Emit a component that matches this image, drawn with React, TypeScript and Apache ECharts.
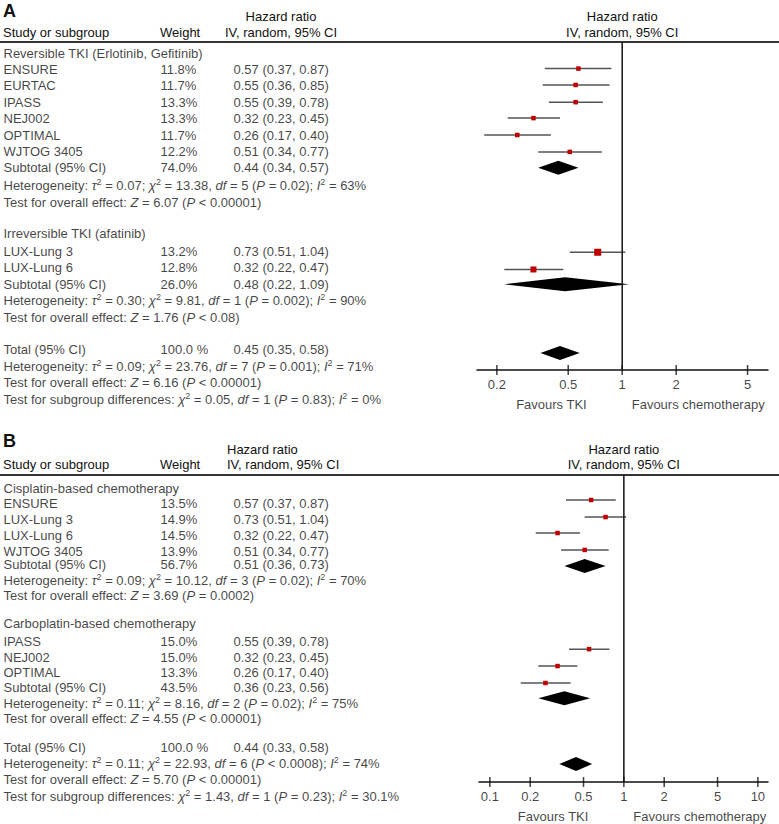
import React, { useEffect, useRef } from 'react';
import * as echarts from 'echarts';

const FONT = '"Liberation Sans", Arial, Helvetica, sans-serif';
const INK = '#111';
const CI_COLOR = '#555';
const SQUARE_COLOR = '#c00000';

// ---------------- Panel A data ----------------
const groupsA = ['Reversible TKI (Erlotinib, Gefitinib)', 'Irreversible TKI (afatinib)'];
const studiesA = ['ENSURE', 'EURTAC', 'IPASS', 'NEJ002', 'OPTIMAL', 'WJTOG 3405', 'LUX-Lung 3', 'LUX-Lung 6'];
const weightsA = ['11.8%', '11.7%', '13.3%', '13.3%', '11.7%', '12.2%', '13.2%', '12.8%'];
const hrA = [0.57, 0.55, 0.55, 0.32, 0.26, 0.51, 0.73, 0.32];
const lowerA = [0.37, 0.36, 0.39, 0.23, 0.17, 0.34, 0.51, 0.22];
const upperA = [0.87, 0.85, 0.78, 0.45, 0.4, 0.77, 1.04, 0.47];
const summaryLabelsA = ['Subtotal (95% CI)', 'Subtotal (95% CI)', 'Total (95% CI)'];
const summaryWeightsA = ['74.0%', '26.0%', '100.0 %'];
const summaryHrA = [0.44, 0.48, 0.45];
const summaryLowerA = [0.34, 0.22, 0.35];
const summaryUpperA = [0.57, 1.09, 0.58];
const tau2A = ['0.07', '0.30', '0.09'];
const chi2A = ['13.38', '9.81', '23.76'];
const dfA = ['5', '1', '7'];
const pHetA = ['= 0.02', '= 0.002', '= 0.001'];
const i2A = ['63%', '90%', '71%'];
const zA = ['6.07', '1.76', '6.16'];
const pZA = ['< 0.00001', '< 0.08', '< 0.00001'];
const diffA = ['0.05', '1', '= 0.83', '0%']; // chi2, df, P, I2
const ticksA = [0.2, 0.5, 1, 2, 5];

// ---------------- Panel B data ----------------
const groupsB = ['Cisplatin-based chemotherapy', 'Carboplatin-based chemotherapy'];
const studiesB = ['ENSURE', 'LUX-Lung 3', 'LUX-Lung 6', 'WJTOG 3405', 'IPASS', 'NEJ002', 'OPTIMAL'];
const weightsB = ['13.5%', '14.9%', '14.5%', '13.9%', '15.0%', '15.0%', '13.3%'];
const hrB = [0.57, 0.73, 0.32, 0.51, 0.55, 0.32, 0.26];
const lowerB = [0.37, 0.51, 0.22, 0.34, 0.39, 0.23, 0.17];
const upperB = [0.87, 1.04, 0.47, 0.77, 0.78, 0.45, 0.4];
const summaryLabelsB = ['Subtotal (95% CI)', 'Subtotal (95% CI)', 'Total (95% CI)'];
const summaryWeightsB = ['56.7%', '43.5%', '100.0 %'];
const summaryHrB = [0.51, 0.36, 0.44];
const summaryLowerB = [0.36, 0.23, 0.33];
const summaryUpperB = [0.73, 0.56, 0.58];
const tau2B = ['0.09', '0.11', '0.11'];
const chi2B = ['10.12', '8.16', '22.93'];
const dfB = ['3', '2', '6'];
const pHetB = ['= 0.02', '= 0.02', '< 0.0008'];
const i2B = ['70%', '75%', '74%'];
const zB = ['3.69', '4.55', '5.70'];
const pZB = ['= 0.0002', '< 0.00001', '< 0.00001'];
const diffB = ['1.43', '1', '= 0.23', '30.1%'];
const ticksB = [0.1, 0.2, 0.5, 1, 2, 5, 10];

// ---------------- Layout (positions / sizes / styles) ----------------
const layoutA = {
  letter: 'A', letterY: 11, head1Y: 16, head2Y: 32,
  hrHeadX: 281, hrHeadAlign: 'center',
  y0: 53, step: 16.4, top: 42, axisY: 370, textBottom: 412,
  plotLeft: 477, plotRight: 768, xMin: 0.155, xMax: 6.5,
  groupRows: [0, 11],
  studyRows: [1, 2, 3, 4, 5, 6, 12.1, 13.1],
  studyPlotRows: [0.95, 1.95, 3, 3.97, 5, 6.03, 12.15, 13.2],
  summaryRows: [7, 14.1, 18.1],
  summaryPlotRows: [7, 14.1, 18.3],
  hetRows: [8.1, 15.1, 19.1],
  testRows: [9.1, 16.1, 20.1],
  diffRow: 21.1,
  squareSizes: [4.5, 4.5, 4.5, 4.5, 4.5, 4.5, 7, 6],
};
const layoutB = {
  letter: 'B', letterY: 441, head1Y: 449, head2Y: 464,
  hrHeadX: 227, hrHeadAlign: 'left',
  y0: 488, step: 15.8, top: 475, axisY: 782, textBottom: 824,
  plotLeft: 479, plotRight: 768, xMin: 0.083, xMax: 11.9,
  groupRows: [0, 8.6],
  studyRows: [1, 2, 3, 4, 9.7, 10.7, 11.7],
  studyPlotRows: [0.76, 1.84, 2.85, 3.92, 10.2, 11.27, 12.34],
  summaryRows: [4.85, 12.65, 16.45],
  summaryPlotRows: [4.94, 13.3, 17.47],
  hetRows: [5.85, 13.65, 17.45],
  testRows: [6.8, 14.6, 18.45],
  diffRow: 19.5,
  squareSizes: [4.5, 4.5, 4.5, 4.5, 4.5, 4.5, 4.5],
};
const COL_NAME = 3;
const COL_WEIGHT = 160;
const COL_HR = 233;
const DIAMOND_HALF = 7;

const panelA = {
  groups: groupsA, studies: studiesA, weights: weightsA, hr: hrA, lower: lowerA, upper: upperA,
  sLabels: summaryLabelsA, sWeights: summaryWeightsA, sHr: summaryHrA, sLower: summaryLowerA, sUpper: summaryUpperA,
  tau2: tau2A, chi2: chi2A, df: dfA, pHet: pHetA, i2: i2A, z: zA, pZ: pZA, diff: diffA, ticks: ticksA,
};
const panelB = {
  groups: groupsB, studies: studiesB, weights: weightsB, hr: hrB, lower: lowerB, upper: upperB,
  sLabels: summaryLabelsB, sWeights: summaryWeightsB, sHr: summaryHrB, sLower: summaryLowerB, sUpper: summaryUpperB,
  tau2: tau2B, chi2: chi2B, df: dfB, pHet: pHetB, i2: i2B, z: zB, pZ: pZB, diff: diffB, ticks: ticksB,
};

const f2 = (v: number) => v.toFixed(2);
const hrText = (h: number, l: number, u: number) => `${f2(h)} (${f2(l)}, ${f2(u)})`;
const hetText = (t: string, c: string, d: string, p: string, i: string) =>
  `Heterogeneity: {i|τ}{s|2} = ${t}; {i|χ}{s|2} = ${c}, {i|df} = ${d} ({i|P} ${p}); {i|I}{s|2} = ${i}`;
const testText = (z: string, p: string) => `Test for overall effect: {i|Z} = ${z} ({i|P} ${p})`;
const diffText = (d: string[]) =>
  `Test for subgroup differences: {i|χ}{s|2} = ${d[0]}, {i|df} = ${d[1]} ({i|P} ${d[2]}); {i|I}{s|2} = ${d[3]}`;

function buildPanel(d: any, L: any, gi: number) {
  const rowTop = (L.top - L.y0) / L.step;
  const rowTextMax = (L.textBottom - L.y0) / L.step;
  const rowAxis = (L.axisY - L.y0) / L.step;
  const lx = (v: number) =>
    L.plotLeft + ((Math.log10(v) - Math.log10(L.xMin)) / (Math.log10(L.xMax) - Math.log10(L.xMin))) * (L.plotRight - L.plotLeft);
  const lineX = lx(1);

  const grids = [
    { left: 0, top: L.top, width: 779, height: L.textBottom - L.top },
    { left: L.plotLeft, top: L.top, width: L.plotRight - L.plotLeft, height: L.axisY - L.top },
  ];
  const xAxes = [
    { gridIndex: gi, type: 'value', min: 0, max: 779, show: false },
    {
      gridIndex: gi + 1, type: 'log', logBase: 10, min: L.xMin, max: L.xMax,
      axisLine: { show: true, onZero: false, lineStyle: { color: INK, width: 1.5 } },
      axisTick: { show: false }, axisLabel: { show: false }, splitLine: { show: false },
    },
  ];
  const yAxes = [
    { gridIndex: gi, type: 'value', inverse: true, min: rowTop, max: rowTextMax, show: false },
    { gridIndex: gi + 1, type: 'value', inverse: true, min: rowTop, max: rowAxis, show: false },
  ];

  const texts: any[] = [];
  const add = (x: number, row: number, t: string) => texts.push({ name: t, value: [x, row] });
  d.groups.forEach((g: string, k: number) => add(COL_NAME, L.groupRows[k], g));
  d.studies.forEach((s: string, k: number) => {
    add(COL_NAME, L.studyRows[k], s);
    add(COL_WEIGHT, L.studyRows[k], d.weights[k]);
    add(COL_HR, L.studyRows[k], hrText(d.hr[k], d.lower[k], d.upper[k]));
  });
  d.sLabels.forEach((s: string, k: number) => {
    add(COL_NAME, L.summaryRows[k], s);
    add(COL_WEIGHT, L.summaryRows[k], d.sWeights[k]);
    add(COL_HR, L.summaryRows[k], hrText(d.sHr[k], d.sLower[k], d.sUpper[k]));
    add(COL_NAME, L.hetRows[k], hetText(d.tau2[k], d.chi2[k], d.df[k], d.pHet[k], d.i2[k]));
    add(COL_NAME, L.testRows[k], testText(d.z[k], d.pZ[k]));
  });
  add(COL_NAME, L.diffRow, diffText(d.diff));

  const series: any[] = [
    {
      type: 'scatter', xAxisIndex: gi, yAxisIndex: gi, data: texts, symbolSize: 1, silent: true,
      itemStyle: { color: 'rgba(0,0,0,0)' }, emphasis: { disabled: true },
      label: {
        show: true, position: 'right', distance: 0, formatter: (p: any) => p.name,
        color: INK, fontFamily: FONT, fontSize: 13, lineHeight: 16,
        rich: {
          i: { fontStyle: 'italic', fontFamily: FONT, fontSize: 13, color: INK },
          s: { fontFamily: FONT, fontSize: 9, color: INK, padding: [0, 0, 7, 0] },
        },
      },
    },
    {
      type: 'line', xAxisIndex: gi + 1, yAxisIndex: gi + 1, symbol: 'none', silent: true,
      data: [[1, rowTop], [1, rowAxis]], lineStyle: { color: INK, width: 1.5 },
    },
    {
      type: 'custom', xAxisIndex: gi + 1, yAxisIndex: gi + 1, silent: true,
      encode: { x: [0, 1, 2], y: 3 },
      data: d.hr.map((h: number, k: number) => [d.lower[k], h, d.upper[k], L.studyPlotRows[k]]),
      renderItem: (params: any, api: any) => {
        const y = api.value(3);
        const a = api.coord([api.value(0), y]);
        const m = api.coord([api.value(1), y]);
        const b = api.coord([api.value(2), y]);
        const s = L.squareSizes[params.dataIndex];
        return {
          type: 'group',
          children: [
            { type: 'line', shape: { x1: a[0], y1: a[1], x2: b[0], y2: b[1] }, style: { stroke: CI_COLOR, lineWidth: 1.5 } },
            { type: 'rect', shape: { x: m[0] - s / 2, y: m[1] - s / 2, width: s, height: s }, style: { fill: SQUARE_COLOR } },
          ],
        };
      },
    },
    {
      type: 'custom', xAxisIndex: gi + 1, yAxisIndex: gi + 1, silent: true,
      encode: { x: [0, 1, 2], y: 3 },
      data: d.sHr.map((h: number, k: number) => [d.sLower[k], h, d.sUpper[k], L.summaryPlotRows[k]]),
      renderItem: (params: any, api: any) => {
        const y = api.value(3);
        const a = api.coord([api.value(0), y]);
        const m = api.coord([api.value(1), y]);
        const b = api.coord([api.value(2), y]);
        return {
          type: 'polygon',
          shape: { points: [[a[0], a[1]], [m[0], m[1] - DIAMOND_HALF], [b[0], b[1]], [m[0], m[1] + DIAMOND_HALF]] },
          style: { fill: '#000' },
        };
      },
    },
    {
      type: 'scatter', xAxisIndex: gi + 1, yAxisIndex: gi + 1, silent: true, clip: false,
      data: d.ticks.map((v: number) => [v, rowAxis]),
      symbol: 'rect', symbolSize: [1.5, 10], itemStyle: { color: INK },
      label: {
        show: true, position: 'bottom', distance: 3, formatter: (p: any) => String(p.value[0]),
        color: INK, fontFamily: FONT, fontSize: 13,
      },
    },
    {
      type: 'scatter', xAxisIndex: gi + 1, yAxisIndex: gi + 1, silent: true, clip: false,
      symbolSize: 1, itemStyle: { color: 'rgba(0,0,0,0)' },
      data: [
        { value: [1, rowAxis], label: { position: 'left', distance: 35, formatter: 'Favours TKI' } },
        { value: [1, rowAxis], label: { position: 'right', distance: 9, formatter: 'Favours chemotherapy' } },
      ],
      label: { show: true, offset: [0, 34], color: INK, fontFamily: FONT, fontSize: 13 },
    },
  ];

  const txt = (x: number, y: number, text: string, align = 'left', font = `13px ${FONT}`) => ({
    type: 'text', x, y, silent: true,
    style: { text, font, fill: INK, align, verticalAlign: 'middle', textAlign: align, textVerticalAlign: 'middle' },
  });
  const graphics: any[] = [
    txt(3, L.letterY, L.letter, 'left', `bold 18px ${FONT}`),
    txt(COL_NAME, L.head2Y, 'Study or subgroup'),
    txt(COL_WEIGHT, L.head2Y, 'Weight'),
    txt(L.hrHeadX, L.head1Y, 'Hazard ratio', L.hrHeadAlign),
    txt(L.hrHeadX, L.head2Y, 'IV, random, 95% CI', L.hrHeadAlign),
    txt(lineX, L.head1Y, 'Hazard ratio', 'center'),
    txt(lineX, L.head2Y, 'IV, random, 95% CI', 'center'),
    {
      type: 'line', silent: true,
      shape: { x1: 0, y1: L.top, x2: 779, y2: L.top },
      style: { stroke: '#333', lineWidth: 2 },
    },
  ];
  return { grids, xAxes, yAxes, series, graphics };
}

export default function App() {
  const ref = useRef<HTMLDivElement>(null);
  useEffect(() => {
    if (!ref.current) return;
    const chart = echarts.init(ref.current, null, { renderer: 'svg' });
    const a = buildPanel(panelA, layoutA, 0);
    const b = buildPanel(panelB, layoutB, 2);
    chart.setOption({
      animation: false,
      backgroundColor: '#fff',
      grid: [...a.grids, ...b.grids],
      xAxis: [...a.xAxes, ...b.xAxes],
      yAxis: [...a.yAxes, ...b.yAxes],
      series: [...a.series, ...b.series],
      graphic: [...a.graphics, ...b.graphics],
    });
    return () => chart.dispose();
  }, []);
  return (
    <div
      ref={ref}
      style={{ position: 'absolute', left: 0, top: 0, width: 779, height: 824, background: '#fff' }}
    />
  );
}
